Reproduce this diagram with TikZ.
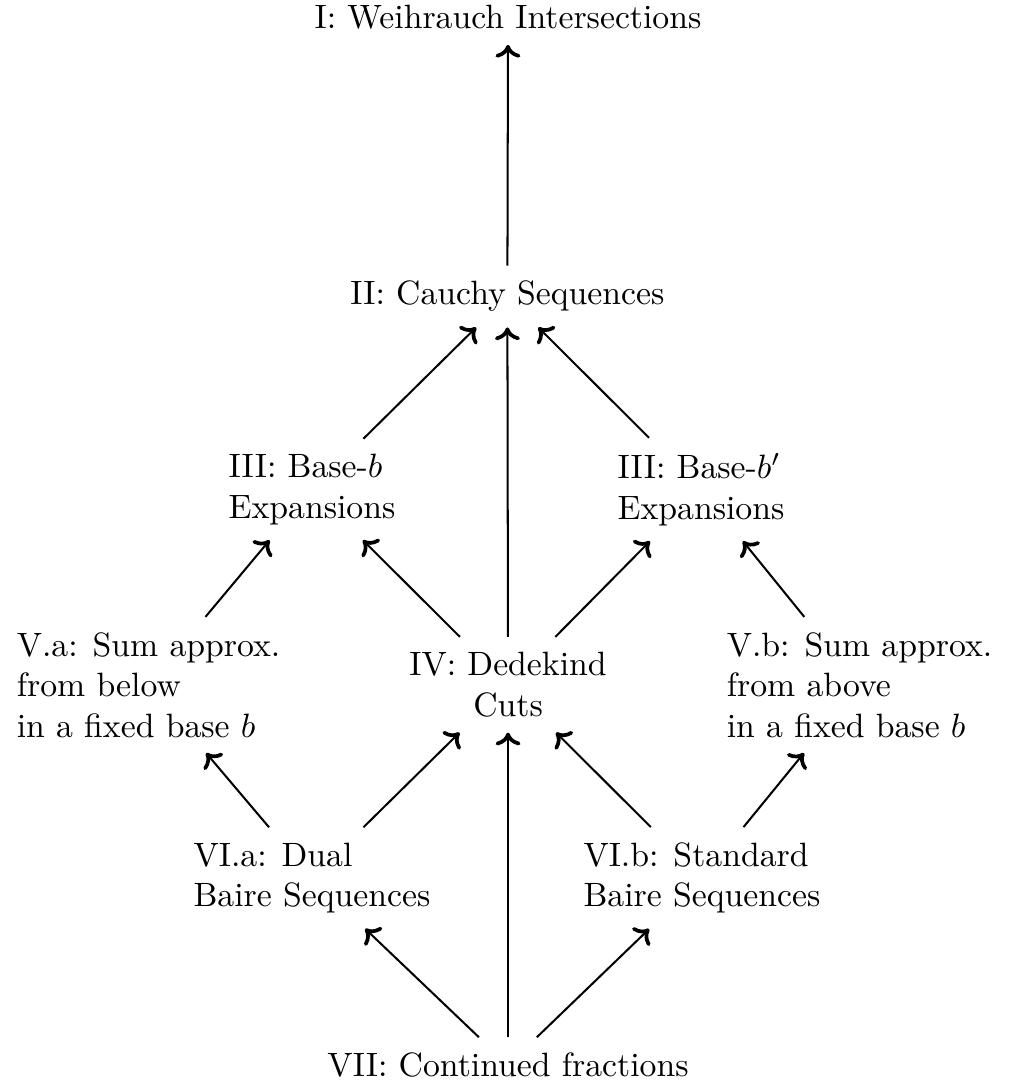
\documentclass[tikz,border=0pt]{standalone}
\usepackage{amsmath}
\usetikzlibrary{arrows.meta}

\begin{document}
\begin{tikzpicture}[>={Computer Modern Rightarrow[length=3.8pt, width=7.4pt, line width=1.1pt]}, semithick,
        every node/.style={inner sep=4.3pt},
        lbox/.style={align=left},
        cbox/.style={align=center}]
    % Rahmen
    \useasboundingbox (0,0) rectangle (10.521,-11.375);

    % Knoten
    \node (i) at (5.292,-0.180) {I: Weihrauch Intersections};
    \node (ii) at (5.285,-3.089) {II: Cauchy Sequences};
    \node[lbox] (iiia) at (3.250,-5.099) {III: Base-$b$\\Expansions};
    \node[lbox] (iiib) at (7.302,-5.099) {III: Base-$b'$\\Expansions};
    \node[lbox] (va) at (1.547,-7.135) {V.a: Sum approx.\\from below\\in a fixed base $b$};
    \node[cbox] (iv) at (5.292,-7.133) {IV: Dedekind\\Cuts};
    \node[lbox] (vb) at (8.953,-7.135) {V.b: Sum approx.\\from above\\in a fixed base $b$};
    \node[lbox] (via) at (3.250,-9.146) {VI.a: Dual\\Baire Sequences};
    \node[lbox] (vib) at (7.312,-9.146) {VI.b: Standard\\Baire Sequences};
    \node (vii) at (5.292,-11.094) {VII: Continued fractions};

    % Pfeile
    \foreach \src/\dst in {ii/i, iiia/ii, iv/ii, iiib/ii,
            va/iiia, iv/iiia, iv/iiib, vb/iiib,
            via/va, via/iv, vii/iv, vib/iv, vib/vb,
            vii/via, vii/vib}
        \draw[->] (\src) -- (\dst);
\end{tikzpicture}
\end{document}
